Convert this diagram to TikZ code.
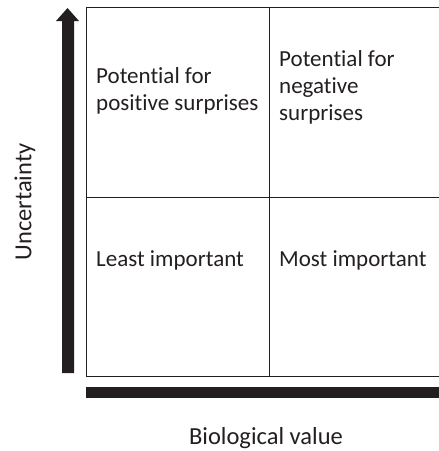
\documentclass[tikz,border=0pt]{standalone}
\usepackage{fontspec}
\setmainfont{Carlito}[Ligatures={NoCommon}]
\definecolor{ink}{HTML}{231F20}
\begin{document}
\begin{tikzpicture}[x=1pt,y=-1pt,
  cell/.style={anchor=west,align=left,inner sep=0pt,text=ink,font=\fontsize{23}{27}\selectfont},
  axislabel/.style={inner sep=0pt,text=ink,font=\fontsize{24.5}{28}\selectfont},
  gridline/.style={draw=ink,line width=1pt}]
\useasboundingbox (0,0) rectangle (439,451);
% grid
\coordinate (tl) at (86,7);
\coordinate (tr) at (439,7);
\coordinate (bl) at (86,376);
\coordinate (br) at (439,376);
\coordinate (tm) at (269,7);
\coordinate (bm) at (269,376);
\coordinate (ml) at (86,197);
\coordinate (mr) at (439,197);
\draw[gridline] (tr) -- (tl) -- (bl) -- (br);
\draw[gridline] (tm) -- (bm);
\draw[gridline] (ml) -- (mr);
% vertical axis arrow
\fill[ink] (62,373) -- (62,21) -- (56,21) -- (67.5,8) -- (79,21) -- (74,21) -- (74,373) -- cycle;
% horizontal axis bar
\fill[ink] (86,387) rectangle (439,398);
% cell texts
\node[cell] (pos) at (96,90.5) {Potential for\\positive surprises};
\node[cell] (neg) at (279,87) {Potential for\\negative\\surprises};
\node[cell] (least) at (96,260) {Least important};
\node[cell] (most) at (279,260) {Most important};
% axis labels
\node[axislabel,rotate=90] (unc) at (25,202) {Uncertainty};
\node[axislabel] (bio) at (266,438) {Biological value};
\end{tikzpicture}
\end{document}
